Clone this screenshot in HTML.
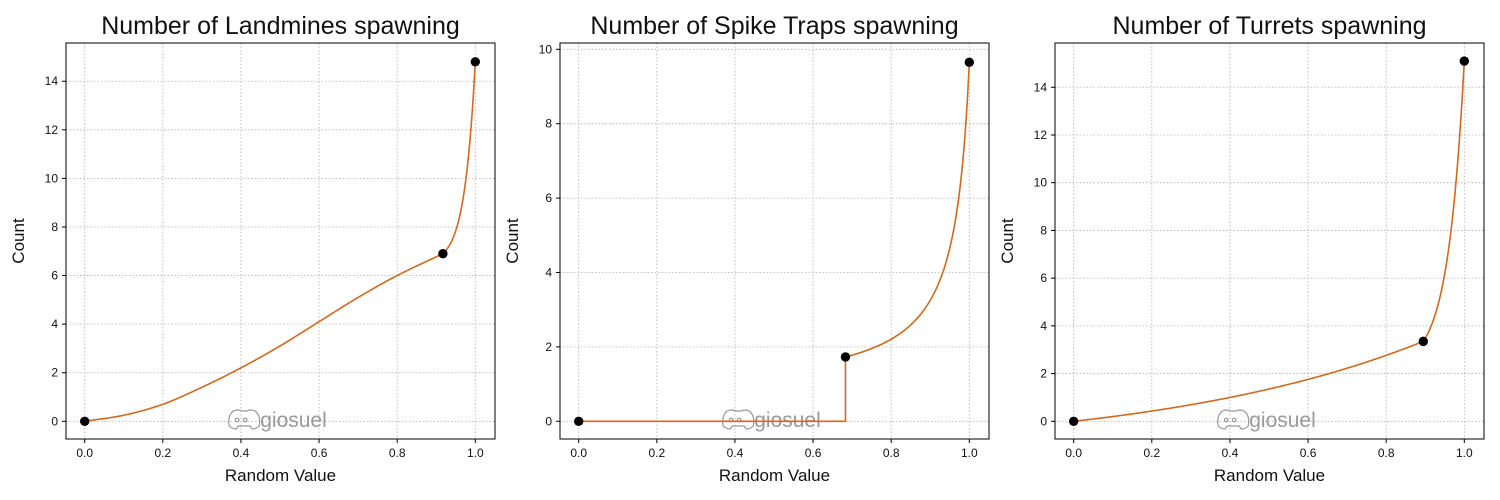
<!DOCTYPE html>
<html><head><meta charset="utf-8"><style>
html,body{margin:0;padding:0;background:#fff}
svg{display:block}
text{font-family:"Liberation Sans","DejaVu Sans",sans-serif;fill:#111}
</style></head><body>
<svg id="s" width="1500" height="500" xmlns="http://www.w3.org/2000/svg"></svg>
<script>
const S=document.getElementById('s');let h='';
function panel(o){
 const L=o.L,R=L+429,T=43,B=439,x0=L+18.7,xs=390.6;
 const X=x=>x0+x*xs,Y=y=>421.3-y*o.ys;
 // grid
 for(let i=0;i<=5;i++){const x=X(i*0.2);h+=`<line x1="${x}" y1="${T}" x2="${x}" y2="${B}" stroke="#b0b0b0" stroke-width="0.8" stroke-dasharray="1.5,2"/>`;
  h+=`<line x1="${x}" y1="${B}" x2="${x}" y2="${B+4}" stroke="#000"/>`;
  h+=`<text x="${x}" y="${B+18}" font-size="12" text-anchor="middle">${(i*0.2).toFixed(1)}</text>`;}
 for(const v of o.yt){const y=Y(v);h+=`<line x1="${L}" y1="${y}" x2="${R}" y2="${y}" stroke="#b0b0b0" stroke-width="0.8" stroke-dasharray="1.5,2"/>`;
  h+=`<line x1="${L-4}" y1="${y}" x2="${L}" y2="${y}" stroke="#000"/>`;
  h+=`<text x="${L-8}" y="${y+4}" font-size="12" text-anchor="end">${v}</text>`;}
 // watermark
 const wx=X(0.37);
 h+=`<g stroke="#999" fill="none" stroke-width="1.2"><path d="M${wx} ${426} q-2 -10 4 -15 q5 -2 8 0 h6 q3 -2 8 0 q6 5 4 15 q-3 3 -7 3 l-2 -3 h-12 l-2 3 q-4 0 -7 -3z"/><circle cx="${wx+8}" cy="${420}" r="1.8"/><circle cx="${wx+16}" cy="${420}" r="1.8"/></g>`;
 h+=`<text x="${wx+31}" y="${427}" font-size="21" style="fill:#999">giosuel</text>`;
 // curve
 let pts=[];const N=400;
 for(let i=0;i<=N;i++){const x=i/N;pts.push([x,o.f(x)]);}
 let d='';for(const p of o.extra||[])pts=pts;
 pts=o.pts?o.pts(pts):pts;
 d=pts.map((p,i)=>(i?'L':'M')+X(p[0]).toFixed(2)+' '+Y(p[1]).toFixed(2)).join('');
 h+=`<path d="${d}" fill="none" stroke="#d2691e" stroke-width="1.6"/>`;
 for(const m of o.m)h+=`<circle cx="${X(m[0])}" cy="${Y(m[1])}" r="4.7" fill="#000"/>`;
 h+=`<rect x="${L}" y="${T}" width="429" height="396" fill="none" stroke="#000" stroke-width="1"/>`;
 h+=`<text x="${(L+R)/2}" y="34" font-size="25" text-anchor="middle">${o.t}</text>`;
 h+=`<text x="${(L+R)/2}" y="481" font-size="17" text-anchor="middle">Random Value</text>`;
 h+=`<text transform="translate(${L-42},241) rotate(-90)" font-size="17" text-anchor="middle">Count</text>`;
}
// panel 1
const P1=[[0,0],[0.1,0.25],[0.2,0.7],[0.3,1.4],[0.4,2.2],[0.5,3.1],[0.6,4.1],[0.7,5.1],[0.8,6.0],[0.917,6.9]];
function interp(P,x){for(let i=0;i<P.length-1;i++){if(x<=P[i+1][0]){const a=P[i],b=P[i+1];const t=(x-a[0])/(b[0]-a[0]);
 const p0=P[Math.max(i-1,0)],p3=P[Math.min(i+2,P.length-1)];
 const m1=(b[1]-p0[1])/(b[0]-p0[0])*(b[0]-a[0]),m2=(p3[1]-a[1])/(p3[0]-a[0])*(b[0]-a[0]);
 const t2=t*t,t3=t2*t;return (2*t3-3*t2+1)*a[1]+(t3-2*t2+t)*m1+(-2*t3+3*t2)*b[1]+(t3-t2)*m2;}}return P[P.length-1][1];}
panel({L:66,ys:24.29,yt:[0,2,4,6,8,10,12,14],t:"Number of Landmines spawning",m:[[0,0],[0.917,6.9],[1,14.8]],
 f:x=>x<=0.917?interp(P1,x):6.9+7.9*(Math.exp(3*(x-0.917)/0.083)-1)/(Math.exp(3)-1)});
// panel 2
panel({L:560,ys:37.2,yt:[0,2,4,6,8,10],t:"Number of Spike Traps spawning",m:[[0,0],[0.683,1.73],[1,9.65]],
 f:x=>x<0.683?0:0.755+0.347/(1.039-x),
 pts:p=>{const r=[];for(const q of p){if(q[0]>=0.683&&r.length&&r[r.length-1][0]<0.683){r.push([0.683,0]);r.push([0.683,1.73]);}r.push(q);}return r;}});
// panel 3
panel({L:1055,ys:23.86,yt:[0,2,4,6,8,10,12,14],t:"Number of Turrets spawning",m:[[0,0],[0.895,3.35],[1,15.1]],
 f:x=>x<=0.895?1.307*(Math.exp(1.42*x)-1):3.35+11.75*(Math.exp(2.5*(x-0.895)/0.105)-1)/(Math.exp(2.5)-1)});
S.innerHTML=h;
</script>
</body></html>
